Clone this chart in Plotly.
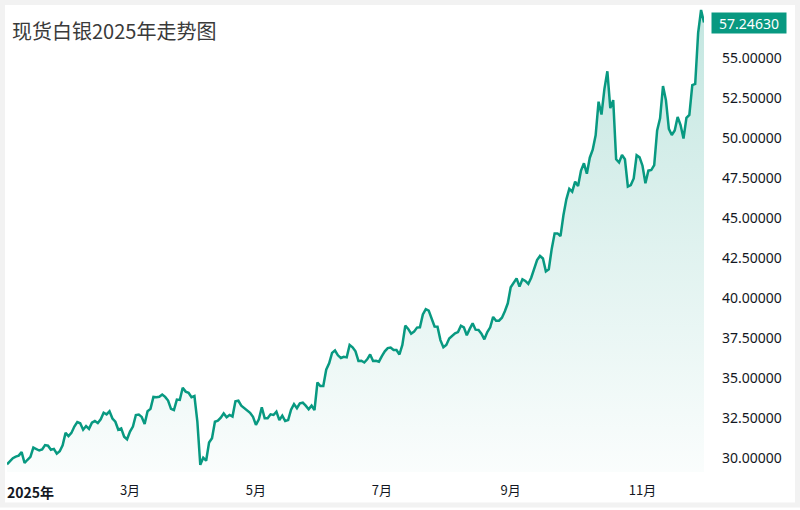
import pandas as pd
import plotly.graph_objects as go

# ---- data (daily closes, trading days from 2025-01-02) ----
prices = [
    29.64, 29.85, 30.02, 30.12, 30.18, 30.40, 29.72, 29.92, 30.10, 30.68,
    30.60, 30.50, 30.57, 30.84, 30.80, 30.55, 30.60, 30.30, 30.45, 30.82,
    31.60, 31.40, 31.60, 32.00, 32.28, 32.20, 31.80, 32.03, 31.85, 32.24,
    32.34, 32.22, 32.45, 32.86, 32.76, 32.95, 32.50, 32.30, 31.80, 31.88,
    31.36, 31.20, 31.68, 32.00, 32.72, 32.75, 32.60, 32.16, 32.95, 33.10,
    33.85, 33.83, 33.86, 34.00, 33.85, 33.62, 33.10, 33.03, 33.68, 33.66,
    34.42, 34.18, 34.11, 33.83, 33.90, 32.30, 29.60, 30.05, 29.86, 31.00,
    31.26, 32.30, 32.36, 32.55, 32.82, 32.58, 32.72, 32.62, 33.58, 33.61,
    33.30, 33.14, 33.00, 32.86, 32.60, 32.10, 32.45, 33.20, 32.51, 32.51,
    32.76, 32.72, 32.93, 32.40, 32.68, 32.34, 32.40, 33.05, 33.40, 33.14,
    33.45, 33.49, 33.30, 33.08, 33.30, 33.03, 34.75, 34.53, 34.53, 35.55,
    35.95, 36.60, 36.75, 36.45, 36.28, 36.36, 36.32, 37.10, 36.95, 36.70,
    36.10, 36.11, 36.00, 36.20, 36.50, 36.10, 36.11, 36.05, 36.40, 36.70,
    36.90, 36.93, 36.78, 36.78, 36.50, 37.10, 38.30, 38.10, 37.80, 37.93,
    38.18, 38.20, 39.00, 39.33, 39.24, 38.80, 38.25, 38.24, 37.40, 36.95,
    37.10, 37.50, 37.65, 37.82, 37.90, 38.30, 38.20, 37.70, 38.10, 38.45,
    38.05, 38.03, 37.80, 37.45, 37.90, 38.20, 38.85, 38.61, 38.61, 38.80,
    39.20, 39.70, 40.70, 40.99, 41.26, 40.74, 41.20, 41.10, 40.91, 41.30,
    41.80, 42.40, 42.66, 42.50, 41.70, 41.83, 43.10, 44.07, 44.07, 43.90,
    45.20, 46.20, 46.85, 46.68, 47.30, 47.03, 48.00, 48.45, 47.80, 48.80,
    49.30, 50.20, 52.30, 51.50, 53.10, 54.20, 51.90, 52.40, 48.70, 48.50,
    48.97, 48.70, 47.00, 47.09, 47.50, 48.95, 48.82, 48.30, 47.20, 47.99,
    48.03, 48.34, 50.50, 51.26, 53.28, 52.40, 50.60, 50.22, 50.50, 51.35,
    50.84, 50.00, 51.29, 51.47, 53.34, 53.41, 56.60, 58.03, 57.2463,
]
dates = pd.bdate_range("2025-01-02", periods=len(prices))

month_tick_dates = ["2025-03-03", "2025-05-01", "2025-07-01", "2025-09-01", "2025-11-03"]
month_tick_labels = ["3月", "5月", "7月", "9月", "11月"]
year_label = "2025年"
y_tick_values = [30, 32.5, 35, 37.5, 40, 42.5, 45, 47.5, 50, 52.5, 55]
y_tick_labels = [f"{v:.5f}" for v in y_tick_values]
title_text = "现货白银2025年走势图"

GREEN = "#089981"
W, H = 800, 510
L, R, T, B = 7, 96, 6, 38
pw, ph = W - L - R, H - T - B

fig = go.Figure()
fig.add_trace(go.Scatter(
    x=dates, y=prices, mode="lines",
    line=dict(color=GREEN, width=2.5),
    fill="tozeroy",
    fillgradient=dict(type="vertical", start=29.2, stop=58.0,
                      colorscale=[[0, "rgba(8,153,129,0.02)"], [1, "rgba(8,153,129,0.24)"]]),
    hoverinfo="skip",
))

fig.update_layout(
    width=W, height=H,
    margin=dict(l=L, r=R, t=T, b=B),
    paper_bgcolor="white", plot_bgcolor="white",
    showlegend=False,
    font=dict(family="Noto Sans CJK SC, Noto Sans, sans-serif", color="#131722", size=13),
    title=dict(text=title_text, x=12 / W, xanchor="left", xref="container",
               y=1 - 32 / H, yanchor="middle", yref="container",
               font=dict(size=20, color="#3a3a3a", family="Noto Sans CJK SC")),
)
fig.update_xaxes(
    type="date",
    range=[dates[0], dates[-1]],
    rangebreaks=[dict(bounds=["sat", "mon"])],
    tickvals=month_tick_dates, ticktext=month_tick_labels,
    showgrid=False, zeroline=False, showline=False, ticks="",
    ticklabelstandoff=9,
    tickfont=dict(size=13, color="#131722"),
)
fig.update_yaxes(
    side="right",
    range=[29.156, 58.281],
    tickvals=y_tick_values, ticktext=y_tick_labels,
    showgrid=False, zeroline=False, showline=False, ticks="",
    ticklabelstandoff=17,
    tickfont=dict(size=14, color="#131722", family="Noto Sans, DejaVu Sans"),
)

# first-year label (bold, left aligned inside)
fig.add_annotation(xref="x", x=dates[0], yref="paper", y=0, yanchor="top",
                   xanchor="left", xshift=-2, yshift=-8, showarrow=False,
                   text=f"<b>{year_label}</b>", font=dict(size=14, color="#131722"))

# last price tag
fig.add_annotation(xref="paper", x=1, xanchor="left", xshift=7,
                   yref="y", y=prices[-1], yanchor="middle",
                   text=f"{prices[-1]:.5f}", showarrow=False,
                   bgcolor=GREEN, width=70, height=16, borderpad=2,
                   font=dict(size=14, color="white", family="Noto Sans, DejaVu Sans"))

# light gray frame
def px_x(p):
    return (p - L) / pw

def px_y(p):
    return (H - B - p) / ph

fig.add_shape(type="rect", xref="paper", yref="paper",
              x0=px_x(2.5), x1=px_x(797.5), y0=px_y(2.5), y1=px_y(505),
              line=dict(color="#f2f2f2", width=5), layer="above")

fig.write_html("out.html",
               config={"displayModeBar": False},
               post_script="document.body.style.margin='0';document.body.style.padding='0';")
